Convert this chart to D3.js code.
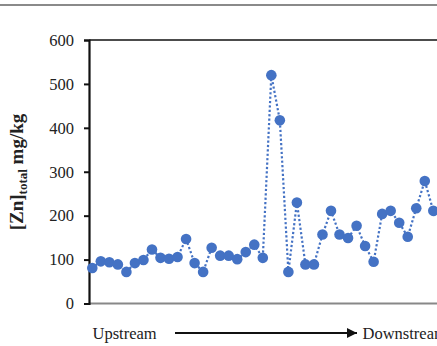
<!DOCTYPE html>
<html>
<head>
<meta charset="utf-8">
<script src="https://cdn.jsdelivr.net/npm/d3@7"></script>
<style>
  html, body { margin: 0; padding: 0; background: #fff; }
  svg { display: block; }
</style>
</head>
<body>
<svg id="chart" width="437" height="346"></svg>
<script>
// Total zinc concentration at sampling sites, ordered upstream to downstream
const sites = d3.range(1, 42);
const znTotal = [81, 96, 94, 89, 72, 92, 99, 123, 104, 102, 106, 147, 92, 72, 127,
                 109, 109, 101, 117, 134, 104, 520, 417, 72, 230, 89, 89, 157, 211,
                 157, 149, 177, 131, 95, 204, 211, 184, 152, 217, 279, 211];
const yTicks = [0, 100, 200, 300, 400, 500, 600];

const svg = d3.select("#chart");
const W = 437;
const SERIF = "'Liberation Serif', 'Times New Roman', Times, serif";

const x = d3.scaleLinear().domain([1, 41]).range([92.3, 433.3]);
const y = d3.scaleLinear().domain([0, 600]).range([303.5, 40]);

// page rule above the figure
svg.append("line").attr("x1", 0).attr("x2", W).attr("y1", 5).attr("y2", 5)
  .attr("stroke", "#8a8a8a").attr("stroke-width", 2);

// top frame line
svg.append("line").attr("x1", 89).attr("x2", W).attr("y1", y(600)).attr("y2", y(600))
  .attr("stroke", "#111").attr("stroke-width", 1.5);

// bottom axis line
svg.append("line").attr("x1", 89).attr("x2", W).attr("y1", y(0)).attr("y2", y(0))
  .attr("stroke", "#888").attr("stroke-width", 2);

// y axis
const yAxis = svg.append("g").attr("transform", "translate(89,0)")
  .call(d3.axisLeft(y).tickValues(yTicks).tickSize(5).tickPadding(10));
yAxis.attr("font-family", SERIF).attr("font-size", 16.5);
yAxis.select(".domain").attr("stroke", "#111").attr("stroke-width", 2.2);
yAxis.selectAll(".tick line").attr("stroke", "#111").attr("stroke-width", 2);
yAxis.selectAll(".tick text")
  .style("font-family", SERIF).style("font-size", "16.5px").attr("fill", "#222");

// y axis title
const title = svg.append("text")
  .attr("transform", "translate(23,172) rotate(-90)")
  .attr("text-anchor", "middle")
  .style("font-family", SERIF)
  .style("font-weight", "bold").style("font-size", "19px")
  .attr("fill", "#222");
title.append("tspan").text("[Zn]");
title.append("tspan").style("font-size", "13px").attr("dy", 4).text("total");
title.append("tspan").attr("dy", -4).text(" mg/kg");

// plot area clipped at the window edge
svg.append("clipPath").attr("id", "plot-clip")
  .append("rect").attr("x", 80).attr("y", 30).attr("width", W - 80).attr("height", 285);
const plot = svg.append("g").attr("clip-path", "url(#plot-clip)");

const line = d3.line().x((d, i) => x(sites[i])).y(d => y(d));
plot.append("path").datum(znTotal)
  .attr("d", line)
  .attr("fill", "none")
  .attr("stroke", "#4472C4")
  .attr("stroke-width", 2.2)
  .attr("stroke-dasharray", "2.2,2.2");

plot.selectAll("circle").data(znTotal).join("circle")
  .attr("cx", (d, i) => x(sites[i]))
  .attr("cy", d => y(d))
  .attr("r", 5.3)
  .attr("fill", "#4472C4");

// flow direction annotation
svg.append("defs").append("marker")
  .attr("id", "arrowhead").attr("viewBox", "0 0 10 10")
  .attr("refX", 10).attr("refY", 5)
  .attr("markerWidth", 5).attr("markerHeight", 5)
  .attr("markerUnits", "strokeWidth")
  .attr("orient", "auto")
  .append("path").attr("d", "M0,0 L10,5 L0,10 Z").attr("fill", "#111");

svg.append("text").attr("x", 92.5).attr("y", 339)
  .style("font-family", SERIF).style("font-size", "16.5px").attr("fill", "#222")
  .text("Upstream");
svg.append("line").attr("x1", 175).attr("x2", 357).attr("y1", 333).attr("y2", 333)
  .attr("stroke", "#111").attr("stroke-width", 2)
  .attr("marker-end", "url(#arrowhead)");
svg.append("text").attr("x", 362.5).attr("y", 339)
  .style("font-family", SERIF).style("font-size", "16.5px").attr("fill", "#222")
  .text("Downstream");
</script>
</body>
</html>
